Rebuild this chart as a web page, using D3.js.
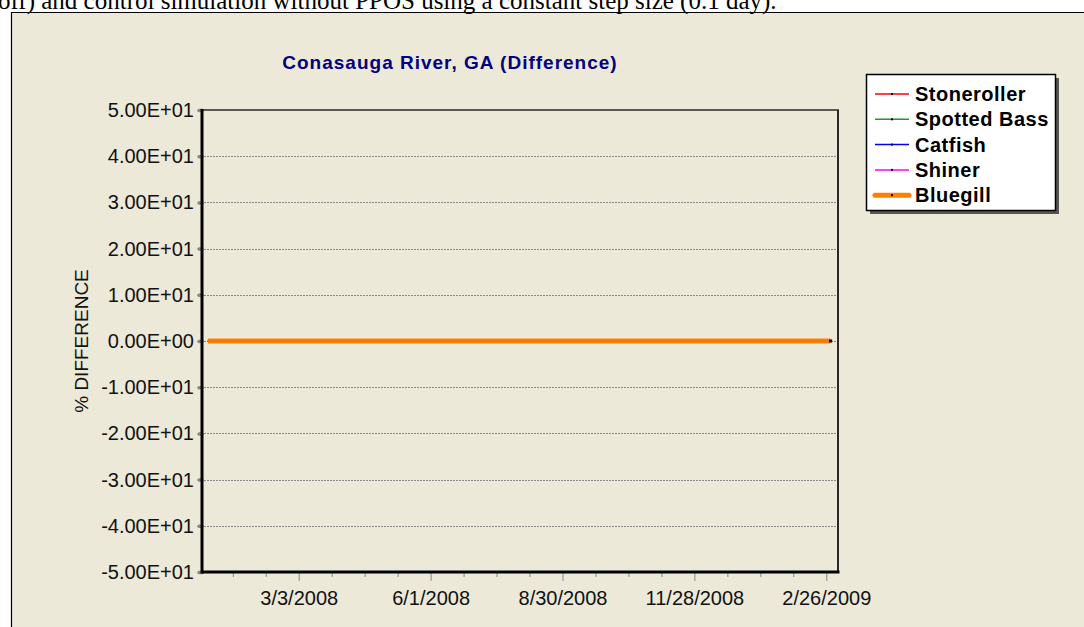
<!DOCTYPE html>
<html>
<head>
<meta charset="utf-8">
<script src="https://cdn.jsdelivr.net/npm/d3@7"></script>
<style>
  body { margin: 0; background: #fff; }
  svg { display: block; }
</style>
</head>
<body>
<div id="chart"></div>
<script>
// simulation output dates (all series flat at zero)
var dates = ["1/1/2008", "2/1/2008", "3/1/2008", "4/1/2008", "5/1/2008", "6/1/2008",
             "7/1/2008", "8/1/2008", "9/1/2008", "10/1/2008", "11/1/2008", "12/1/2008",
             "1/1/2009", "2/1/2009", "3/1/2009"];
var stoneroller  = [0, 0, 0, 0, 0, 0, 0, 0, 0, 0, 0, 0, 0, 0, 0];
var spottedBass  = [0, 0, 0, 0, 0, 0, 0, 0, 0, 0, 0, 0, 0, 0, 0];
var catfish      = [0, 0, 0, 0, 0, 0, 0, 0, 0, 0, 0, 0, 0, 0, 0];
var shiner       = [0, 0, 0, 0, 0, 0, 0, 0, 0, 0, 0, 0, 0, 0, 0];
var bluegill     = [0, 0, 0, 0, 0, 0, 0, 0, 0, 0, 0, 0, 0, 0, 0];

var seriesNames  = ["Stoneroller", "Spotted Bass", "Catfish", "Shiner", "Bluegill"];
var xTickLabels  = ["3/3/2008", "6/1/2008", "8/30/2008", "11/28/2008", "2/26/2009"];
var yTicks       = [50, 40, 30, 20, 10, 0, -10, -20, -30, -40, -50];

var colors = ["#ff0000", "#1f9a1f", "#0000ff", "#ff00ff", "#ff8000"];
var widths = [1.5, 1.5, 1.5, 1.5, 5];

var parse = d3.timeParse("%-m/%-d/%Y");
var W = 1084, H = 627;
var plot = {left: 202, right: 838, top: 110, bottom: 572};
var sans = "'Liberation Sans', Arial, sans-serif";

var svg = d3.select("#chart").append("svg")
    .attr("width", W).attr("height", H);

// page / frame
svg.append("rect").attr("width", W).attr("height", H).attr("fill", "#fff");
svg.append("rect").attr("x", 12).attr("y", 13).attr("width", W - 12).attr("height", H - 13)
    .attr("fill", "#ece9d8");
svg.append("text")
    .attr("x", -2).attr("y", 9)
    .attr("font-family", "'Liberation Serif', 'Times New Roman', serif")
    .attr("font-size", 25)
    .attr("fill", "#000")
    .text("off) and control simulation without PPOS using a constant step size (0.1 day).");
svg.append("line").attr("x1", 11).attr("x2", W).attr("y1", 12.5).attr("y2", 12.5)
    .attr("stroke", "#000").attr("stroke-width", 1.2);
svg.append("line").attr("x1", 11.5).attr("x2", 11.5).attr("y1", 12).attr("y2", H)
    .attr("stroke", "#000").attr("stroke-width", 1.2);

// scales
var x = d3.scaleTime()
    .domain([new Date(2007, 11, 28), new Date(2009, 2, 6)])
    .range([plot.left, plot.right]);
var y = d3.scaleLinear().domain([-50, 50]).range([plot.bottom, plot.top]);

function fmtE(v) {
  var s = d3.format(".2e")(v).replace("e", "E").replace("\u2212", "-");
  return s.replace(/E([+-])(\d)$/, "E$10$2");
}

// title
svg.append("text")
    .attr("x", (plot.left + plot.right) / 2 - 70).attr("y", 69)
    .attr("text-anchor", "middle")
    .attr("font-family", sans).attr("font-size", 19).attr("font-weight", "bold")
    .attr("letter-spacing", 1)
    .attr("fill", "#000080")
    .text("Conasauga River, GA (Difference)");

// grid lines
svg.append("g").selectAll("line")
    .data(yTicks.filter(function (d) { return d !== 50 && d !== -50; }))
    .enter().append("line")
    .attr("x1", plot.left + 2).attr("x2", plot.right)
    .attr("y1", function (d) { return Math.round(y(d)) + 0.5; })
    .attr("y2", function (d) { return Math.round(y(d)) + 0.5; })
    .attr("stroke", "#8a8a8a").attr("stroke-width", 1)
    .attr("stroke-dasharray", "2,1");

// y axis
var yAxis = d3.axisLeft(y).tickValues(yTicks).tickFormat(fmtE).tickSize(3).tickPadding(5);
var gy = svg.append("g").attr("transform", "translate(" + plot.left + ",0)").call(yAxis);
gy.select(".domain").remove();
gy.selectAll(".tick line").attr("stroke", "#888").attr("stroke-width", 3.5)
    .attr("stroke-linecap", "round");
gy.selectAll(".tick text").attr("font-family", sans).attr("font-size", 20).attr("fill", "#111");

// x axis: major ticks every 90 days from the labels, minor ticks every quarter interval
var majorDates = xTickLabels.map(parse);
var step = (majorDates[1] - majorDates[0]) / 4;
var minorDates = [];
d3.range(-8, 4 * (majorDates.length - 1) + 4).forEach(function (k) {
  if (k % 4 === 0) return;
  var t = new Date(+majorDates[0] + k * step);
  if (t > x.domain()[0] && t < x.domain()[1]) minorDates.push(t);
});
var gxMinor = svg.append("g").attr("transform", "translate(0," + plot.bottom + ")")
    .call(d3.axisBottom(x).tickValues(minorDates).tickFormat("").tickSize(5));
gxMinor.select(".domain").remove();
gxMinor.selectAll(".tick line").attr("stroke", "#888").attr("stroke-width", 1);

var gx = svg.append("g").attr("transform", "translate(0," + plot.bottom + ")")
    .call(d3.axisBottom(x).tickValues(majorDates)
      .tickFormat(function (d, i) { return xTickLabels[i]; }).tickSize(9).tickPadding(10));
gx.select(".domain").remove();
gx.selectAll(".tick line").attr("stroke", "#888").attr("stroke-width", 1);
gx.selectAll(".tick text").attr("font-family", sans).attr("font-size", 20).attr("fill", "#111");

// plot frame
svg.append("line").attr("x1", plot.left).attr("x2", plot.right + 1)
    .attr("y1", plot.top).attr("y2", plot.top)
    .attr("stroke", "#2a2a2a").attr("stroke-width", 1.6);
svg.append("line").attr("x1", plot.right).attr("x2", plot.right)
    .attr("y1", plot.top).attr("y2", plot.bottom)
    .attr("stroke", "#2a2a2a").attr("stroke-width", 2);
svg.append("line").attr("x1", plot.left).attr("x2", plot.left)
    .attr("y1", plot.top - 1).attr("y2", plot.bottom + 1.5)
    .attr("stroke", "#000").attr("stroke-width", 3);
svg.append("line").attr("x1", plot.left).attr("x2", plot.right + 1.5)
    .attr("y1", plot.bottom).attr("y2", plot.bottom)
    .attr("stroke", "#000").attr("stroke-width", 3);

// y axis title
svg.append("text")
    .attr("transform", "translate(88," + (plot.top + plot.bottom) / 2 + ") rotate(-90)")
    .attr("text-anchor", "middle")
    .attr("font-family", sans).attr("font-size", 19).attr("fill", "#111")
    .text("% DIFFERENCE");

// series
var allSeries = [stoneroller, spottedBass, catfish, shiner, bluegill];
var line = d3.line()
    .x(function (d) { return x(d.date); })
    .y(function (d) { return y(d.value); });

allSeries.forEach(function (vals, i) {
  var pts = dates.map(function (d, j) { return {date: parse(d), value: vals[j]}; });
  svg.append("path").datum(pts)
      .attr("d", line)
      .attr("fill", "none")
      .attr("stroke", colors[i])
      .attr("stroke-width", widths[i]);
  if (i === allSeries.length - 1) {
    // dense point markers show as a dotted texture on the thick line
    svg.append("path").datum(pts)
        .attr("d", line)
        .attr("fill", "none")
        .attr("stroke", "#b35a00")
        .attr("stroke-opacity", 0.6)
        .attr("stroke-width", 1)
        .attr("stroke-dasharray", "1,1");
    var last = pts[pts.length - 1];
    svg.append("rect")
        .attr("x", x(last.date) - 1.5).attr("y", y(last.value) - 1.5)
        .attr("width", 3).attr("height", 3).attr("fill", "#000");
  }
});

// legend
var lg = {x: 866, y: 74, w: 189, h: 136};
svg.append("rect").attr("x", lg.x + 4).attr("y", lg.y + 4).attr("width", lg.w).attr("height", lg.h)
    .attr("fill", "#555");
svg.append("rect").attr("x", lg.x + 0.5).attr("y", lg.y + 0.5).attr("width", lg.w).attr("height", lg.h)
    .attr("fill", "#fff").attr("stroke", "#000").attr("stroke-width", 1.5);
var rows = svg.append("g").selectAll("g")
    .data(seriesNames)
    .enter().append("g")
    .attr("transform", function (d, i) { return "translate(0," + (94 + i * 25.3) + ")"; });
rows.append("line")
    .attr("x1", 875).attr("x2", 909).attr("y1", 0).attr("y2", 0)
    .attr("stroke", function (d, i) { return colors[i]; })
    .attr("stroke-width", function (d, i) { return i === 4 ? 5 : 1.5; })
    .attr("stroke-linecap", function (d, i) { return i === 4 ? "round" : "butt"; });
rows.append("rect")
    .attr("x", 891).attr("y", -1).attr("width", 2).attr("height", 2).attr("fill", "#000");
rows.append("text")
    .attr("x", 915).attr("y", 7)
    .attr("font-family", sans).attr("font-size", 20).attr("font-weight", "bold")
    .attr("letter-spacing", 0.5)
    .attr("fill", "#000")
    .text(function (d) { return d; });
</script>
</body>
</html>
